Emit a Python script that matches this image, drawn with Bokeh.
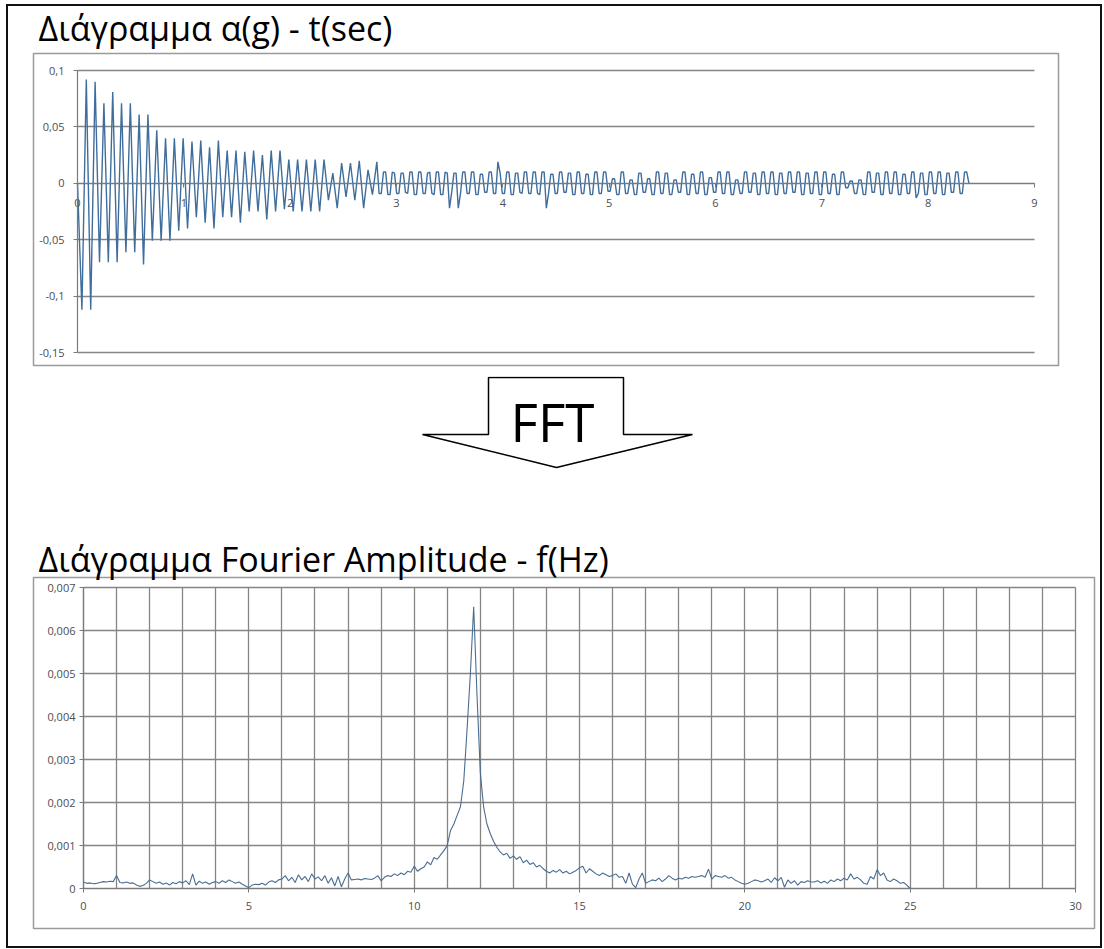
from bokeh.plotting import figure
from bokeh.models import Range1d, FixedTicker, CustomJSTickFormatter, Label, BoxAnnotation
from bokeh.layouts import column
from bokeh.embed import file_html
from bokeh.resources import INLINE

# ---------------- DATA ----------------
# acceleration record a(g): decaying part, one value every DECAY_STEP s (peaks / troughs)
DECAY_STEP = 0.0414
accel_decay = [
    0.0,
    -0.112, 0.092, -0.112, 0.090, -0.070, 0.071, -0.070, 0.081, -0.070, 0.071,
    -0.061, 0.071, -0.061, 0.061, -0.072, 0.061, -0.051, 0.047, -0.051, 0.040,
    -0.051, 0.040, -0.042, 0.040, -0.040, 0.037, -0.030, 0.038, -0.035, 0.032,
    -0.040, 0.038, -0.030, 0.029, -0.030, 0.029, -0.035, 0.028, -0.025, 0.029,
    -0.025, 0.025, -0.032, 0.029, -0.025, 0.029, -0.023, 0.021, -0.025, 0.021,
    -0.025, 0.021, -0.025, 0.021, -0.025, 0.021,
    -0.015, 0.009, -0.022, 0.018, -0.012, 0.018, -0.015, 0.020, -0.022, 0.012,
    -0.010, 0.019,
]
# residual part, one value every TAIL_STEP s starting at TAIL_START s
TAIL_START = 2.836
TAIL_STEP = 0.0207
accel_tail = [
    -0.009, -0.009, 0.010, 0.010, -0.010, -0.010, 0.010, 0.009,
    -0.009, -0.009, 0.009, 0.009, -0.008, -0.009, 0.010, 0.010,
    -0.010, -0.010, 0.010, 0.010, -0.009, -0.009, 0.009, 0.010,
    -0.009, -0.010, 0.010, 0.010, -0.010, -0.010, 0.010, 0.009,
    -0.022, -0.008, 0.009, 0.009, -0.022, -0.009, 0.010, 0.010,
    -0.009, -0.009, 0.010, 0.010, -0.010, -0.010, 0.008, 0.008,
    -0.008, -0.008, 0.010, 0.010, -0.009, -0.009, 0.019, 0.009,
    -0.009, -0.009, 0.010, 0.010, -0.010, -0.010, 0.009, 0.009,
    -0.008, -0.009, 0.010, 0.010, -0.009, -0.009, 0.010, 0.010,
    -0.009, -0.010, 0.010, 0.010, -0.022, -0.009, 0.008, 0.008,
    -0.009, -0.009, 0.010, 0.010, -0.008, -0.008, 0.009, 0.009,
    -0.010, -0.010, 0.010, 0.010, -0.009, -0.009, 0.008, 0.008,
    -0.010, -0.010, 0.010, 0.010, -0.009, -0.009, 0.010, 0.010,
    -0.007, -0.007, 0.004, 0.004, -0.010, -0.010, 0.010, 0.010,
    -0.009, -0.009, 0.003, 0.003, -0.010, -0.010, 0.009, 0.009,
    -0.008, -0.008, 0.004, 0.004, -0.010, -0.010, 0.010, 0.010,
    -0.009, -0.009, 0.009, 0.009, -0.010, -0.010, 0.003, 0.003,
    -0.008, -0.008, 0.010, 0.010, -0.010, -0.010, 0.008, 0.008,
    -0.009, -0.009, 0.010, 0.010, -0.010, -0.010, 0.005, 0.005,
    -0.008, -0.008, 0.010, 0.010, -0.009, -0.009, 0.010, 0.010,
    -0.010, -0.010, 0.003, 0.003, -0.009, -0.009, 0.010, 0.010,
    -0.008, -0.008, 0.009, 0.009, -0.010, -0.010, 0.010, 0.010,
    -0.009, -0.009, 0.010, 0.010, -0.010, -0.010, 0.009, 0.009,
    -0.009, -0.009, 0.010, 0.010, -0.008, -0.008, 0.010, 0.010,
    -0.010, -0.010, 0.009, 0.009, -0.009, -0.009, 0.010, 0.010,
    -0.010, -0.010, 0.010, 0.010, -0.009, -0.009, 0.008, 0.008,
    -0.010, -0.010, 0.010, 0.010, -0.004, -0.004, 0.002, 0.002,
    -0.009, -0.009, 0.003, 0.003, -0.010, -0.010, 0.010, 0.010,
    -0.008, -0.008, 0.009, 0.009, -0.010, -0.010, 0.010, 0.010,
    -0.009, -0.009, 0.010, 0.010, -0.010, -0.010, 0.008, 0.008,
    -0.009, -0.009, 0.010, 0.010, -0.013, -0.009, 0.009, 0.009,
    -0.010, -0.010, 0.010, 0.010, -0.009, -0.009, 0.010, 0.010,
    -0.010, -0.010, 0.009, 0.009, -0.008, -0.008, 0.010, 0.010,
    -0.009, -0.009, 0.010, 0.010,
    0.0,
]
time_decay = [round(i * DECAY_STEP, 4) for i in range(len(accel_decay))]
time_tail = [round(TAIL_START + i * TAIL_STEP, 4) for i in range(len(accel_tail))]

# Fourier amplitude spectrum, one value every FREQ_STEP Hz from 0 to 25 Hz
FREQ_STEP = 0.1
fourier_amp = [
    0.00015, 0.00012, 0.00013, 0.00011, 0.00012, 0.00014, 0.00016, 0.00015, 0.00017, 0.00016, 0.00030,
    0.00014, 0.00013, 0.00015, 0.00012, 0.00013, 0.00008, 0.00005, 0.00007, 0.00012, 0.00020,
    0.00016, 0.00012, 0.00015, 0.00010, 0.00013, 0.00008, 0.00014, 0.00011, 0.00016, 0.00013,
    0.00018, 0.00009, 0.00034, 0.00008, 0.00017, 0.00012, 0.00015, 0.00010, 0.00014, 0.00016,
    0.00012, 0.00018, 0.00014, 0.00020, 0.00016, 0.00012, 0.00015, 0.00010, 0.00006, 0.00002,
    0.00008, 0.00010, 0.00009, 0.00012, 0.00008, 0.00015, 0.00018, 0.00014, 0.00020, 0.00022,
    0.00030, 0.00018, 0.00026, 0.00014, 0.00032, 0.00020, 0.00028, 0.00016, 0.00034, 0.00022,
    0.00027, 0.00018, 0.00030, 0.00012, 0.00025, 0.00006, 0.00028, 0.00004, 0.00022, 0.00036,
    0.00020, 0.00021, 0.00022, 0.00020, 0.00023, 0.00022, 0.00021, 0.00024, 0.00030, 0.00018,
    0.00026, 0.00030, 0.00028, 0.00034, 0.00030, 0.00036, 0.00032, 0.00040, 0.00038, 0.00052,
    0.00040, 0.00046, 0.00050, 0.00062, 0.00055, 0.00072, 0.00068, 0.00078, 0.00088, 0.00100,
    0.00135, 0.00150, 0.00170, 0.00190, 0.00250, 0.00370, 0.00500, 0.00655, 0.00450, 0.00270,
    0.00190, 0.00150, 0.00128, 0.00110, 0.00096, 0.00085, 0.00078, 0.00082, 0.00070, 0.00076,
    0.00068, 0.00074, 0.00060, 0.00066, 0.00056, 0.00060, 0.00050, 0.00054, 0.00046, 0.00040,
    0.00036, 0.00042, 0.00038, 0.00044, 0.00036, 0.00040, 0.00034, 0.00038, 0.00042, 0.00048,
    0.00052, 0.00036, 0.00046, 0.00040, 0.00034, 0.00030, 0.00036, 0.00032, 0.00028, 0.00030,
    0.00034, 0.00026, 0.00028, 0.00012, 0.00036, 0.00010, 0.00002, 0.00022, 0.00036, 0.00012,
    0.00016, 0.00020, 0.00018, 0.00024, 0.00016, 0.00022, 0.00030, 0.00024, 0.00020, 0.00024,
    0.00022, 0.00026, 0.00024, 0.00028, 0.00026, 0.00028, 0.00030, 0.00026, 0.00045, 0.00022,
    0.00030, 0.00028, 0.00026, 0.00030, 0.00024, 0.00026, 0.00020, 0.00016, 0.00012, 0.00010,
    0.00012, 0.00016, 0.00020, 0.00018, 0.00015, 0.00018, 0.00022, 0.00014, 0.00025, 0.00018,
    0.00026, 0.00003, 0.00020, 0.00012, 0.00018, 0.00008, 0.00016, 0.00014, 0.00018, 0.00015,
    0.00015, 0.00018, 0.00013, 0.00017, 0.00012, 0.00020, 0.00016, 0.00022, 0.00018, 0.00024,
    0.00020, 0.00034, 0.00022, 0.00026, 0.00020, 0.00012, 0.00010, 0.00028, 0.00022, 0.00044,
    0.00030, 0.00036, 0.00020, 0.00016, 0.00022, 0.00018, 0.00012, 0.00014, 0.00008, 0.00000,
]
freq_hz = [round(i * FREQ_STEP, 1) for i in range(len(fourier_amp))]

accel_x_ticks = [0, 1, 2, 3, 4, 5, 6, 7, 8, 9]
accel_y_ticks = [-0.15, -0.1, -0.05, 0, 0.05, 0.1]
fourier_x_ticks = [0, 5, 10, 15, 20, 25, 30]
fourier_x_grid = list(range(0, 31))
fourier_y_ticks = [0, 0.001, 0.002, 0.003, 0.004, 0.005, 0.006, 0.007]

title_top = "Διάγραμμα α(g) - t(sec)"
title_bottom = "Διάγραμμα Fourier Amplitude - f(Hz)"
arrow_text = "FFT"

# ---------------- STYLE / LAYOUT ----------------
PAGE_X0, PAGE_Y0 = 8, 6          # content origin inside the page border (page px)
W = 1092
H1, H2, H3 = 370, 140, 430
GRID_C = "#858585"
AXIS_C = "#7a7a7a"
BOX_C = "#9a9a9a"
LABEL_C = "#4d4d4d"
TITLE_FONT = "Open Sans"
TITLE_SIZE = 34
BASELINE_FIX = 15                # Label baseline compensation (px)

comma_fmt = CustomJSTickFormatter(
    code="return (Math.round(tick*100000)/100000).toString().replace('.', ',');")


def style_axis(ax, ticker, bounds, standoff):
    ax.fixed_location = 0
    ax.bounds = bounds
    ax.ticker = ticker
    ax.formatter = comma_fmt
    ax.axis_line_color = AXIS_C
    ax.axis_line_width = 1.2
    ax.major_tick_line_color = AXIS_C
    ax.major_tick_in = 0
    ax.major_tick_out = 4
    ax.minor_tick_line_color = None
    ax.major_label_text_font = "Open Sans"
    ax.major_label_text_font_size = "11px"
    ax.major_label_text_color = LABEL_C
    ax.major_label_standoff = standoff


def chart(page_top, height, plot_px, xr, yr):
    # plot_px: page px of (xr[0], xr[1]) horizontally and (yr[1], yr[0]) vertically
    px0, px1, py1, py0 = plot_px
    sx = (px1 - px0) / (xr[1] - xr[0])
    sy = (py0 - py1) / (yr[1] - yr[0])

    def X(px):
        return xr[0] + (px - px0) / sx

    def Y(py):
        return yr[0] + (py0 - py) / sy

    p = figure(width=W, height=height,
               x_range=Range1d(X(PAGE_X0), X(PAGE_X0 + W)),
               y_range=Range1d(Y(page_top + height), Y(page_top)),
               toolbar_location=None, output_backend="svg", title_location=None,
               min_border=0, min_border_left=0, min_border_right=0,
               min_border_top=0, min_border_bottom=0)
    p.outline_line_color = None
    p.background_fill_color = "white"
    p.border_fill_color = "white"
    return p, X, Y


def add_box_and_title(p, X, Y, box, title, baseline):
    l, t, r, b = box
    p.add_layout(BoxAnnotation(left=X(l), right=X(r), top=Y(t), bottom=Y(b),
                               fill_color=None, fill_alpha=0,
                               line_color=BOX_C, line_alpha=1.0, line_width=1.5))
    p.add_layout(Label(x=X(38), y=Y(baseline - BASELINE_FIX), text=title,
                       text_font=TITLE_FONT, text_font_size=f"{TITLE_SIZE}px",
                       text_color="black", text_baseline="alphabetic"))


# ---------- top chart: a(g) - t(sec) ----------
top_y = PAGE_Y0
p1, X1, Y1 = chart(top_y, H1, (77, 1034, 70, 352), (0, 9), (-0.15, 0.1))
style_axis(p1.xaxis[0], FixedTicker(ticks=accel_x_ticks), (0, 9), 12)
style_axis(p1.yaxis[0], FixedTicker(ticks=accel_y_ticks), (-0.15, 0.1), 9)
p1.xgrid.visible = False
p1.ygrid.ticker = FixedTicker(ticks=accel_y_ticks)
p1.ygrid.cross_bounds = (0, 9)
p1.ygrid.grid_line_color = GRID_C
p1.ygrid.grid_line_width = 1.3
p1.line(time_decay + time_tail, accel_decay + accel_tail, line_color="#3f6d9c", line_width=1.4)
add_box_and_title(p1, X1, Y1, (33, 53, 1058, 365), title_top, 42)

# ---------- middle: FFT arrow ----------
mid_y = PAGE_Y0 + H1
p2 = figure(width=W, height=H2, toolbar_location=None, output_backend="svg",
            x_range=Range1d(PAGE_X0, PAGE_X0 + W),
            y_range=Range1d(mid_y + H2, mid_y),
            x_axis_location=None, y_axis_location=None, title_location=None,
            min_border=0, min_border_left=0, min_border_right=0,
            min_border_top=0, min_border_bottom=0)
p2.grid.visible = False
p2.outline_line_color = None
arrow_x = [488, 623, 623, 692, 556, 422, 488, 488]
arrow_y = [377, 377, 434, 434, 467, 434, 434, 377]
p2.patch(arrow_x, arrow_y, fill_color="white", line_color="black", line_width=1.5)
p2.add_layout(Label(x=552, y=421, text=arrow_text, text_font=TITLE_FONT,
                    text_font_size="53px", text_color="black", text_align="center",
                    text_baseline="alphabetic"))

# ---------- bottom chart: Fourier amplitude - f(Hz) ----------
bot_y = PAGE_Y0 + H1 + H2
p3, X3, Y3 = chart(bot_y, H3, (83, 1075, 587, 888), (0, 30), (0, 0.007))
style_axis(p3.xaxis[0], FixedTicker(ticks=fourier_x_ticks), (0, 30), 9)
style_axis(p3.yaxis[0], FixedTicker(ticks=fourier_y_ticks), (0, 0.007), 4)
p3.xgrid.ticker = FixedTicker(ticks=fourier_x_grid)
p3.xgrid.cross_bounds = (0, 0.007)
p3.ygrid.ticker = FixedTicker(ticks=fourier_y_ticks)
p3.ygrid.cross_bounds = (0, 30)
for g in (p3.xgrid, p3.ygrid):
    g.grid_line_color = GRID_C
    g.grid_line_width = 1.3
p3.line(freq_hz, fourier_amp, line_color="#4a6d91", line_width=1.1)
add_box_and_title(p3, X3, Y3, (33, 577, 1094, 928), title_bottom, 573)

layout = column(p1, p2, p3, spacing=0, margin=(4, 0, 0, 6),
                styles={"border": "2px solid #111111"})

open("out.html", "w").write(file_html(layout, INLINE))
